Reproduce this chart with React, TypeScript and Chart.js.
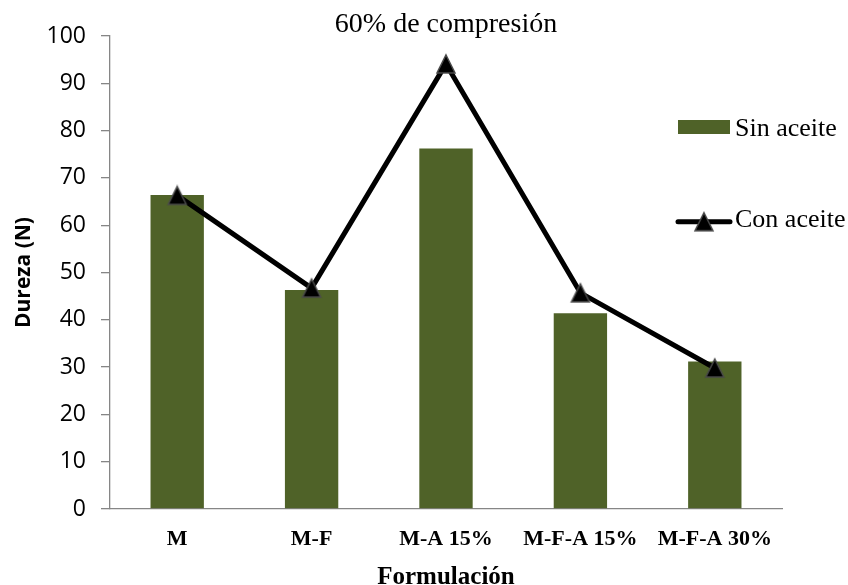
import React, { useEffect, useRef } from "react";
import { Chart, registerables } from "chart.js";

Chart.register(...registerables);

// Hardness (N) per formulation, at 60% compression
const categories = ["M", "M-F", "M-A 15%", "M-F-A 15%", "M-F-A 30%"];
const sinAceite = [66.4, 46.3, 76.2, 41.4, 31.2];
const conAceite = [66.3, 46.7, 94.1, 45.7, 29.8];
const yTicks = [0, 10, 20, 30, 40, 50, 60, 70, 80, 90, 100];

const chartTitle = "60% de compresión";
const xTitle = "Formulación";
const yTitle = "Dureza (N)";
const seriesNames = ["Sin aceite", "Con aceite"];

const BAR_COLOR = "#4F6228";
const AXIS_COLOR = "#868686";
const SERIF = "'Liberation Serif', 'Times New Roman', serif";
const SANS = "'Open Sans', 'Noto Sans', sans-serif";

// Triangle marker centred on its bounding box
function makeTriangle(size: number): HTMLCanvasElement {
  const c = document.createElement("canvas");
  const s = Math.ceil(size) + 4;
  c.width = s;
  c.height = s;
  const ctx = c.getContext("2d")!;
  const cx = s / 2;
  const cy = s / 2;
  const h = size / 2;
  ctx.beginPath();
  ctx.moveTo(cx, cy - h);
  ctx.lineTo(cx + h, cy + h);
  ctx.lineTo(cx - h, cy + h);
  ctx.closePath();
  ctx.fillStyle = "#000";
  ctx.fill();
  ctx.lineWidth = 1.5;
  ctx.strokeStyle = "#4a4a4a";
  ctx.lineJoin = "miter";
  ctx.stroke();
  return c;
}

export default function App() {
  const canvasRef = useRef<HTMLCanvasElement | null>(null);

  useEffect(() => {
    if (!canvasRef.current) return;
    const tri = makeTriangle(18);

    const textPlugin = {
      id: "chartTexts",
      afterDraw(chart: any) {
        const ctx = chart.ctx as CanvasRenderingContext2D;
        const area = chart.chartArea;
        const midX = (area.left + area.right) / 2;
        const midY = (area.top + area.bottom) / 2;
        ctx.save();
        ctx.fillStyle = "#000";
        ctx.textBaseline = "alphabetic";

        // chart title
        ctx.font = `28px ${SERIF}`;
        ctx.textAlign = "center";
        ctx.fillText(chartTitle, midX, 32);

        // x axis title
        ctx.font = `bold 25px ${SERIF}`;
        ctx.fillText(xTitle, midX, 584);

        // y axis title
        ctx.save();
        ctx.translate(30, midY);
        ctx.rotate(-Math.PI / 2);
        ctx.font = `bold 21px ${SANS}`;
        ctx.textAlign = "center";
        ctx.fillText(yTitle, 0, 0);
        ctx.restore();

        // legend
        ctx.textAlign = "left";
        ctx.font = `26px ${SERIF}`;
        ctx.fillStyle = BAR_COLOR;
        ctx.fillRect(678, 120, 52, 14);
        ctx.fillStyle = "#000";
        ctx.fillText(seriesNames[0], 735, 136);

        ctx.beginPath();
        ctx.moveTo(678, 221.7);
        ctx.lineTo(730, 221.7);
        ctx.lineWidth = 5;
        ctx.lineCap = "round";
        ctx.strokeStyle = "#000";
        ctx.stroke();
        ctx.drawImage(tri, 704 - tri.width / 2, 221.7 - tri.height / 2);
        ctx.fillText(seriesNames[1], 735, 227);
        ctx.restore();
      },
    };

    const chart = new Chart(canvasRef.current, {
      type: "bar",
      data: {
        labels: categories,
        datasets: [
          {
            type: "line",
            label: seriesNames[1],
            data: conAceite,
            borderColor: "#000",
            backgroundColor: "#000",
            borderWidth: 5,
            borderJoinStyle: "round",
            borderCapStyle: "round",
            pointStyle: tri as any,
            pointRadius: 9,
            tension: 0,
            order: 0,
          } as any,
          {
            type: "bar",
            label: seriesNames[0],
            data: sinAceite,
            backgroundColor: BAR_COLOR,
            borderWidth: 0,
            categoryPercentage: 1,
            barPercentage: 0.397,
            order: 1,
          },
        ],
      },
      options: {
        animation: false,
        responsive: true,
        maintainAspectRatio: false,
        layout: { padding: { left: 0, right: 66, top: 36, bottom: 0 } },
        plugins: {
          legend: { display: false },
          title: { display: false },
          tooltip: { enabled: false },
        },
        scales: {
          x: {
            offset: true,
            grid: { display: false, drawTicks: false },
            border: { display: true, color: AXIS_COLOR, width: 1.3 },
            ticks: {
              color: "#000",
              padding: 17,
              maxRotation: 0,
              autoSkip: false,
              font: { family: SERIF, size: 22, weight: "bold" },
            },
            afterFit(scale: any) {
              scale.height = 76;
            },
          },
          y: {
            min: 0,
            max: 100,
            afterBuildTicks(scale: any) {
              scale.ticks = yTicks.map((v) => ({ value: v }));
            },
            grid: {
              display: true,
              drawOnChartArea: false,
              drawTicks: true,
              tickLength: 9,
              color: AXIS_COLOR,
              lineWidth: 1.3,
            },
            border: { display: true, color: AXIS_COLOR, width: 1.3 },
            ticks: {
              color: "#000",
              padding: 15,
              font: { family: SANS, size: 23 },
            },
            afterFit(scale: any) {
              scale.width = 110;
            },
          },
        },
      },
      plugins: [textPlugin],
    });

    return () => chart.destroy();
  }, []);

  return (
    <div style={{ position: "absolute", left: 0, top: 0, width: 848, height: 585, background: "#fff" }}>
      <canvas ref={canvasRef} />
    </div>
  );
}
